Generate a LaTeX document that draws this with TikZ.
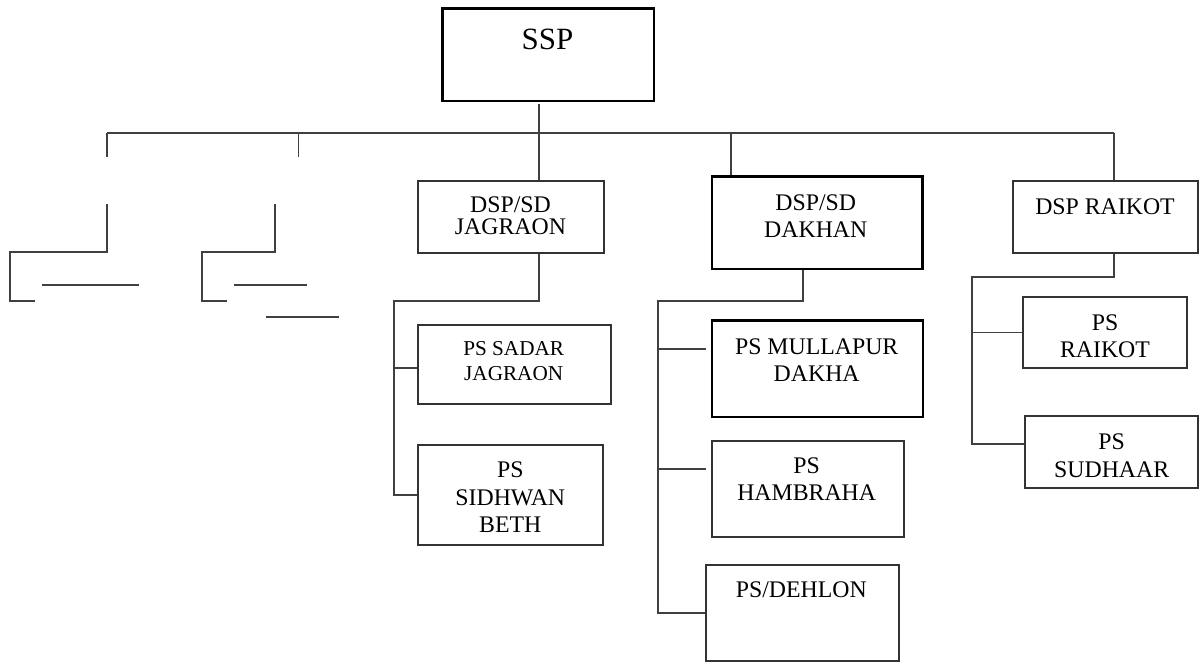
\documentclass[tikz,border=0pt]{standalone}
\usepackage{fontspec}
\setmainfont{Liberation Serif}
\usetikzlibrary{fit}

\tikzset{every picture/.style={line width=0.75pt}}

\begin{document}
\begin{tikzpicture}[x=0.75pt,y=0.75pt,yscale=-1,xscale=1,
		box/.style={draw=black!80,line width=1.4pt,inner sep=0pt},
		boxdark/.style={box,draw=black,line width=1.8pt},
		lbl/.style={inner sep=0.75pt,align=center,font=\fontsize{17.85}{20.6}\selectfont},
		conn/.style={draw=black!75,line width=1.4pt}]
		\useasboundingbox (0,0) rectangle (1200,664);

		%Shape: Rectangle [SSP]
		\node [boxdark,fit={(442.3,8.3) (654,101)}] (ssp) {};
		%Shape: Rectangle [DSP/SD JAGRAON]
		\node [box,fit={(418.3,181) (604,252.7)}] (jag) {};
		%Shape: Rectangle [DSP/SD DAKHAN]
		\node [boxdark,fit={(712,176.5) (922.5,268.8)}] (dak) {};
		%Shape: Rectangle [DSP RAIKOT]
		\node [box,fit={(1012.7,181) (1198,252.7)}] (rai) {};
		%Shape: Rectangle [PS SADAR JAGRAON]
		\node [box,fit={(418.3,325) (610.7,404)}] (sadar) {};
		%Shape: Rectangle [PS SIDHWAN BETH]
		\node [box,fit={(418.3,445) (603.3,545)}] (sidh) {};
		%Shape: Rectangle [PS MULLAPUR DAKHA]
		\node [boxdark,fit={(711.7,320.3) (922.7,416.7)}] (mull) {};
		%Shape: Rectangle [PS HAMBRAHA]
		\node [box,fit={(711.7,441) (904,536.7)}] (hamb) {};
		%Shape: Rectangle [PS/DEHLON]
		\node [box,fit={(706,564.7) (899,660.7)}] (dehl) {};
		%Shape: Rectangle [PS RAIKOT]
		\node [box,fit={(1022.7,296.7) (1187.3,368.3)}] (praik) {};
		%Shape: Rectangle [PS SUDHAAR]
		\node [box,fit={(1025,415.7) (1198,488.3)}] (sudh) {};

		% Text Node
		\node [lbl,font=\fontsize{23.2}{26}\selectfont] (tssp) at (547.5,39.2) {SSP};
		% Text Node
		\node [lbl,font=\fontsize{17.85}{16.5}\selectfont] (tjag) at (510.5,215.7) {DSP/SD\\JAGRAON};
		% Text Node
		\node [lbl] (tdak) at (815.8,216) {DSP/SD\\DAKHAN};
		% Text Node
		\node [lbl] (trai) at (1105,206.7) {DSP RAIKOT};
		% Text Node
		\node [lbl,font=\fontsize{15.9}{18.75}\selectfont] (tsadar) at (513.7,360.8) {PS SADAR\\JAGRAON};
		% Text Node
		\node [lbl] (tsidh) at (510.3,497.3) {PS\\SIDHWAN\\BETH};
		% Text Node
		\node [lbl] (tmull) at (816.7,360) {PS MULLAPUR\\DAKHA};
		% Text Node
		\node [lbl] (thamb) at (806.7,479) {PS\\HAMBRAHA};
		% Text Node
		\node [lbl] (tdehl) at (801.3,590) {PS/DEHLON};
		% Text Node
		\node [lbl] (tpraik) at (1105,336.2) {PS\\RAIKOT};
		% Text Node
		\node [lbl] (tsudh) at (1111.7,455.8) {PS\\SUDHAAR};

		% bus points
		\coordinate (sJ) at (538.7,104);
		\coordinate (bL) at (106.7,132.7);
		\coordinate (b2) at (298.5,132.7);
		\coordinate (bJ) at (538.7,132.7);
		\coordinate (bD) at (730.7,132.7);
		\coordinate (bR) at (1114.3,132.7);
		\coordinate (jJ) at (538.7,301);
		\coordinate (jS) at (394.3,301);
		\coordinate (jS2) at (394.3,368.3);
		\coordinate (dJ) at (802.7,301);
		\coordinate (dS) at (658.3,301);
		\coordinate (dM) at (658.3,349);
		\coordinate (dH) at (658.3,469);
		\coordinate (rJ) at (1114.3,276.7);
		\coordinate (rS) at (972,276.7);
		\coordinate (rS2) at (972,444);

		%Straight Lines [main bus]
		\draw [conn] (sJ) -- (bJ);
		\draw [conn] (bL) -- (bR);
		\draw [conn] (bL) -- ++(0,24);
		\draw [conn] (b2) -- ++(0,24);
		\draw [conn] (bJ) -- (bJ |- jag.north);
		\draw [conn] (bD) -- (bD |- dak.north);
		\draw [conn] (bR) -- (bR |- rai.north);

		%Straight Lines [jagraon]
		\draw [conn] (jJ |- jag.south) -- (jJ) -- (jS) -- (jS |- sidh.west) -- (sidh.west);
		\draw [conn] (jS2) -- (jS2 -| sadar.west);

		%Straight Lines [dakhan]
		\draw [conn] (dJ |- dak.south) -- (dJ) -- (dS) -- (dS |- dehl.west) -- (dehl.west);
		\draw [conn,shorten >=3.75pt] (dM) -- (dM -| mull.west);
		\draw [conn,shorten >=3.75pt] (dH) -- (dH -| hamb.west);

		%Straight Lines [raikot]
		\draw [conn] (rJ |- rai.south) -- (rJ) -- (rS) -- (rS2) -- (rS2 -| sudh.west);
		\draw [conn] (rS |- praik.west) -- (praik.west);

		%Straight Lines [left, loose]
		\draw [conn] (106.7,204.3) -- (106.7,252.3) -- (10,252.3) -- (10,301) -- (35,301);
		\draw [conn] (42,284.7) -- (139,284.7);
		\draw [conn] (274.7,204.3) -- (274.7,252.3) -- (202,252.3) -- (202,301) -- (227.3,301);
		\draw [conn] (234,284.7) -- (307,284.7);
		\draw [conn] (266,316.7) -- (339,316.7);

\end{tikzpicture}
\end{document}
